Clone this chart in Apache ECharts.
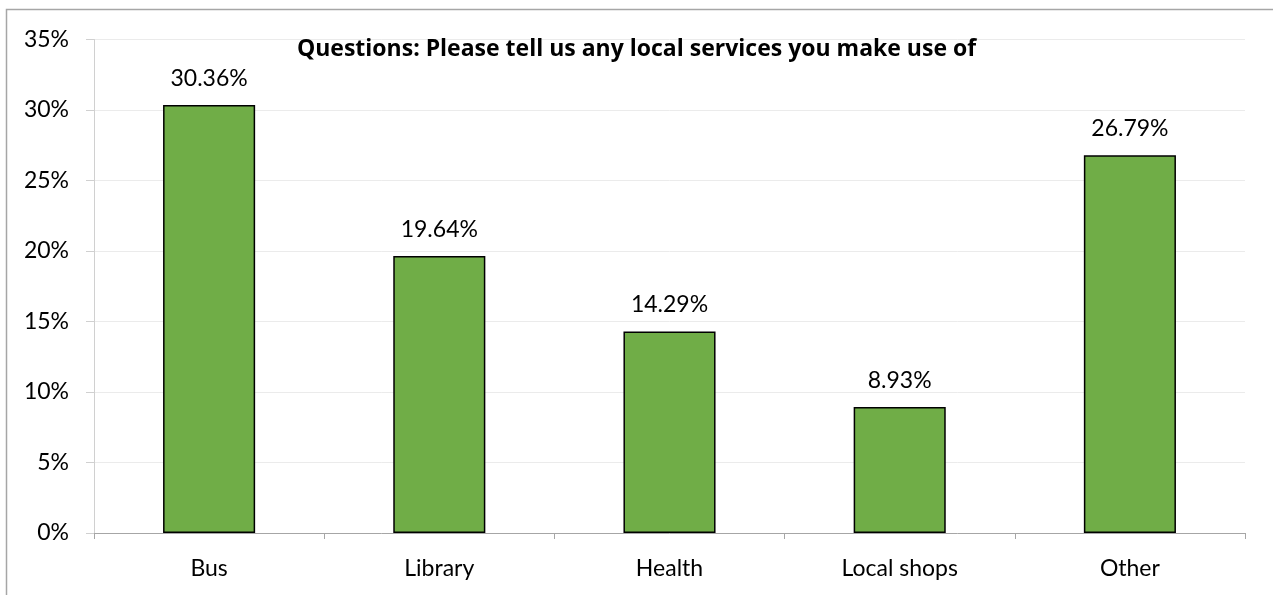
<!DOCTYPE html>
<html>
<head>
<meta charset="utf-8">
<script src="https://cdn.jsdelivr.net/npm/echarts@6/dist/echarts.min.js"></script>
<style>
html,body{margin:0;padding:0;background:#fff;}
#chart{width:1273px;height:595px;}
</style>
</head>
<body>
<div id="chart"></div>
<script>
const titleText = 'Questions: Please tell us any local services you make use of';
const categories = ['Bus', 'Library', 'Health', 'Local shops', 'Other'];
const values = [30.36, 19.64, 14.29, 8.93, 26.79];
const yTicks = { min: 0, max: 35, interval: 5 };

const FONT = 'Lato, "Open Sans", sans-serif';
const chart = echarts.init(document.getElementById('chart'), null, { renderer: 'canvas' });
chart.setOption({
  animation: false,
  backgroundColor: '#fff',
  textStyle: { fontFamily: FONT },
  title: {
    text: titleText,
    left: 'center',
    top: 33,
    textStyle: { fontFamily: '"Open Sans", sans-serif', fontSize: 23, fontWeight: 'bold', color: '#000' }
  },
  graphic: [{
    type: 'rect',
    shape: { x: 6.5, y: 9.5, width: 1400, height: 700 },
    style: { fill: 'none', stroke: '#a6a6a6', lineWidth: 1.5 },
    silent: true
  }],
  grid: { left: 94, right: 28, top: 39.5, bottom: 62, containLabel: false },
  xAxis: {
    type: 'category',
    data: categories,
    axisLine: { show: true, lineStyle: { color: '#a6a6a6', width: 1 } },
    axisTick: { show: true, length: 6, alignWithLabel: false, lineStyle: { color: '#a6a6a6' } },
    axisLabel: { color: '#000', fontSize: 23, margin: 24, fontFamily: FONT }
  },
  yAxis: {
    type: 'value',
    min: yTicks.min,
    max: yTicks.max,
    interval: yTicks.interval,
    axisLine: { show: true, lineStyle: { color: '#d0d0d0', width: 1 } },
    axisTick: { show: true, length: 8, lineStyle: { color: '#d0d0d0' } },
    axisLabel: { color: '#000', fontSize: 23, margin: 25, formatter: '{value}%', fontFamily: FONT },
    splitLine: { show: true, lineStyle: { color: '#ebebeb', width: 1 } }
  },
  series: [{
    type: 'bar',
    data: values,
    barWidth: '40%',
    itemStyle: { color: '#70ad47', borderColor: '#000', borderWidth: 1.5 },
    label: {
      show: true,
      position: 'top',
      distance: 15,
      color: '#000',
      fontSize: 23,
      fontFamily: FONT,
      formatter: p => p.value.toFixed(2) + '%'
    }
  }]
});
</script>
</body>
</html>
